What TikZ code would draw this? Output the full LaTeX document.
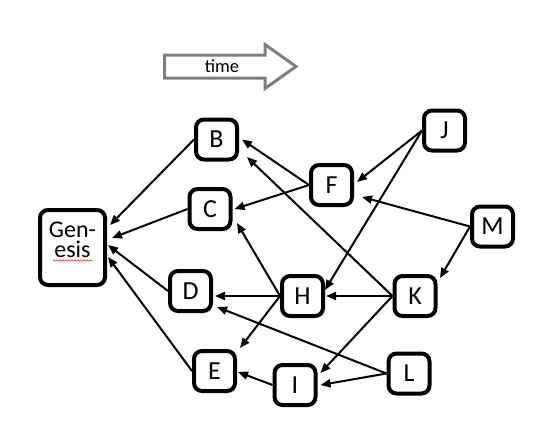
\documentclass[tikz,border=0pt]{standalone}
\usepackage{fontspec}
\setmainfont{Carlito}
\usetikzlibrary{arrows.meta,calc,decorations.pathmorphing}
\definecolor{timegray}{RGB}{127,127,127}
\begin{document}
\begin{tikzpicture}[x=1pt,y=-1pt,
  box/.style={draw, line width=4pt, rounded corners=8pt, fill=white,
    minimum width=41pt, minimum height=40pt, inner sep=0pt,
    font=\fontsize{26}{19}\selectfont},
  edge/.style={line width=2pt, -{Triangle[length=10pt,width=8pt]}},
  timearrow/.style={draw=timegray, line width=3pt, fill=white, line join=miter},
]
\useasboundingbox (0,0) rectangle (556,434);

% time arrow
\draw[timearrow] (164.5,55) -- (265,55) -- (265,44.5) -- (296,66.5) -- (265,88.5)
  -- (265,78) -- (164.5,78) -- cycle;
\node[font=\fontsize{18.5}{18}\selectfont, inner sep=0pt] (time) at (222,66) {time};

% nodes
\node[box, minimum width=65pt, minimum height=75pt, align=center,
  font=\fontsize{24}{20}\selectfont, text depth=15pt] (Gen) at (72.5,247.5) {Gen-\\esis};
\node[box] (B) at (216.5,139.5) {B};
\node[box] (C) at (210,209) {C};
\node[box] (D) at (190.5,291) {D};
\node[box] (E) at (214.5,371) {E};
\node[box] (F) at (331.5,185) {F};
\node[box] (H) at (302.5,296) {H};
\node[box] (I) at (295,385) {I};
\node[box] (J) at (444.5,130.5) {J};
\node[box] (K) at (415,296) {K};
\node[box] (L) at (409,373.5) {L};
\node[box] (M) at (492.5,226.5) {M};

% spell-check underline
\draw[red!80, line width=0.6pt, decorate,
  decoration={snake, amplitude=0.7pt, segment length=3pt}]
  ($(Gen.center)+(-19.5,13)$) -- ($(Gen.center)+(19.5,13)$);

% edges
\draw[edge] (B.west) -- ($(Gen.east)+(3,-22.5)$);
\draw[edge] (C.west) -- ($(Gen.east)+(5,-9.5)$);
\draw[edge] (D.west) -- ($(Gen.east)+(1,-2.5)$);
\draw[edge] (E.west) -- ($(Gen.east)+(1,9.5)$);
\draw[edge] (F.west) -- ($(C.east)+(2,0)$);
\draw[edge] (F.west) -- ($(B.east)+(3,0)$);
\draw[edge] (K.west) -- ($(B.east)+(8,17.5)$);
\draw[edge] (H.west) -- ($(C.east)+(4.5,14)$);
\draw[edge] (H.west) -- ($(D.east |- H.west)+(2,0)$);
\draw[edge] (H.west) -- ($(E.north east)+(3,-1)$);
\draw[edge] (J.west) -- ($(F.east)+(3,-3)$);
\draw[edge] (J.west) -- ($(H.east)+(0,-6)$);
\draw[edge] (K.west) -- ($(H.east)+(1,0)$);
\draw[edge] (K.west) -- ($(I.east)+(3,-12)$);
\draw[edge] (M.west) -- ($(F.east)+(8,12)$);
\draw[edge] (M.west) -- ($(K.east)+(2.5,-18)$);
\draw[edge] (L.west) -- ($(I.east)+(3,0)$);
\draw[edge] (L.west) -- ($(D.east)+(4,16)$);
\draw[edge] (I.west) -- ($(E.east)+(1,1)$);
\end{tikzpicture}
\end{document}
